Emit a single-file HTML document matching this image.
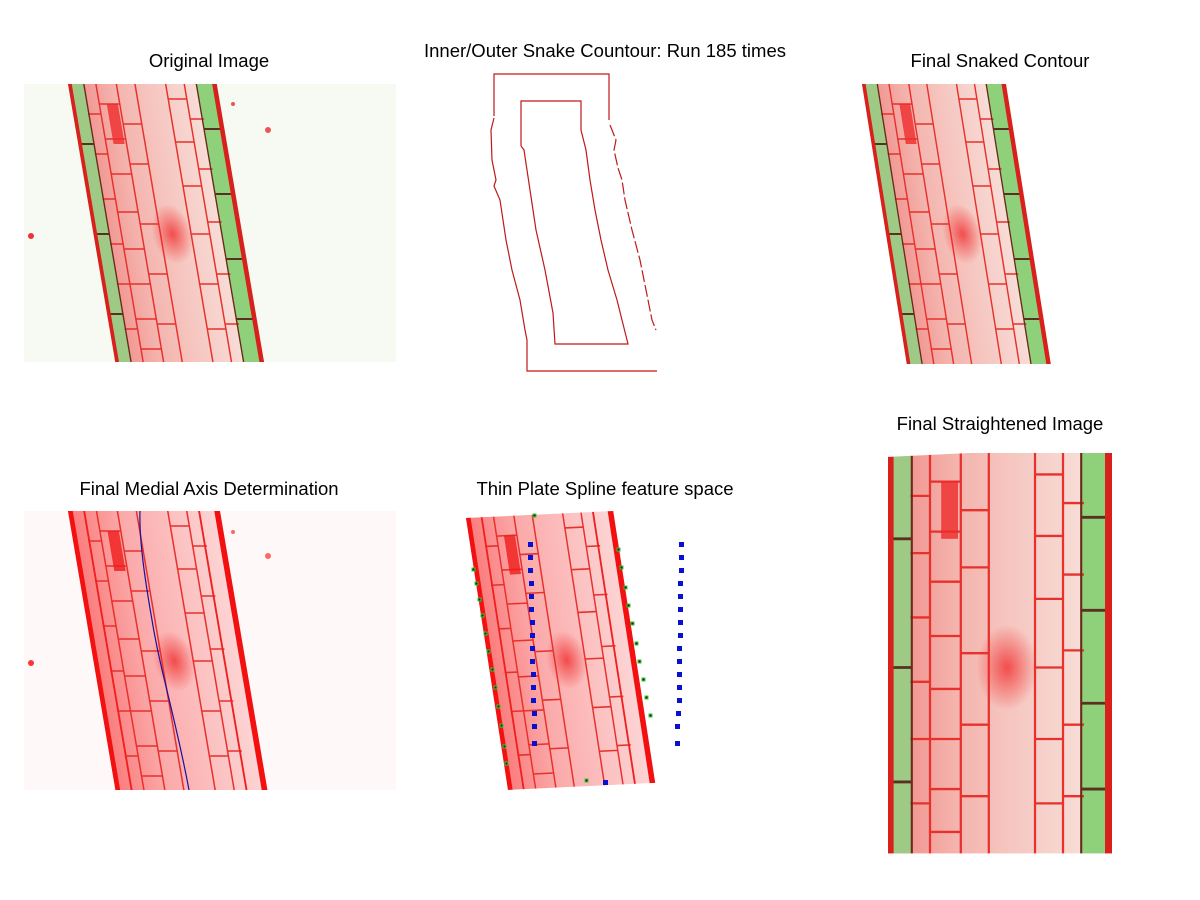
<!DOCTYPE html>
<html><head><meta charset="utf-8"><style>
html,body{margin:0;padding:0;background:#fff;}
svg{display:block;}
text{font-family:"Liberation Sans",sans-serif;font-size:18.5px;fill:#000;}
</style></head><body>
<svg width="1200" height="900" viewBox="0 0 1200 900" xmlns="http://www.w3.org/2000/svg">
<defs>
<linearGradient id="gc" x1="0" x2="1" y1="0" y2="0">
<stop offset="0" stop-color="#f08a86"/><stop offset="0.3" stop-color="#f4b3ad"/><stop offset="0.55" stop-color="#f6c6c0"/><stop offset="1" stop-color="#f8e6e0"/>
</linearGradient>
<linearGradient id="gr" x1="0" x2="1" y1="0" y2="0">
<stop offset="0" stop-color="#fb7a7a"/><stop offset="0.35" stop-color="#fbaaaa"/><stop offset="1" stop-color="#fdd6d6"/>
</linearGradient>
<radialGradient id="blob"><stop offset="0" stop-color="#f03030" stop-opacity="0.8"/><stop offset="1" stop-color="#f03030" stop-opacity="0"/></radialGradient>
<g id="cells" fill="none" stroke="#e8302c" stroke-width="1.6">
<path d="M30 0V280M52 0V280M72 0V280M105 0V280M125 0V280"/>
<path d="M16 30H30M16 70H30M16 115H30M16 160H30M16 200H30M16 245H30"/>
<path d="M30 20H52M30 55H52M30 90H52M30 128H52M30 165H52M30 200H52M30 235H52M30 265H52"/>
<path d="M52 40H72M52 80H72M52 140H72M52 190H72M52 240H72"/>
<path d="M105 15H125M105 58H125M105 102H125M105 150H125M105 200H125M105 245H125"/>
<path d="M125 35H140M125 85H140M125 138H140M125 190H140M125 240H140"/>
</g>
<g id="tc">
<rect x="0" y="0" width="160" height="280" fill="url(#gc)"/>
<rect x="3" y="0" width="14" height="280" fill="#9fca86"/>
<rect x="138" y="0" width="18" height="280" fill="#8fd07a"/>
<path d="M3 60H17M3 150H17M3 230H17M138 45H156M138 110H156M138 175H156M138 235H156" stroke="#5a3020" stroke-width="2"/>
<use href="#cells"/>
<rect x="0" y="0" width="4" height="280" fill="#d8201c"/>
<rect x="155" y="0" width="5" height="280" fill="#d8201c"/>
<line x1="17" y1="0" x2="17" y2="280" stroke="#6a2a18" stroke-width="1.5"/>
<line x1="138" y1="0" x2="138" y2="280" stroke="#6a2a18" stroke-width="1.5"/>
<ellipse cx="85" cy="150" rx="22" ry="30" fill="url(#blob)"/>
<rect x="38" y="20" width="12" height="40" fill="#ee2a2a" opacity="0.8"/>
</g>
<g id="tr">
<rect x="0" y="0" width="160" height="280" fill="url(#gr)"/>
<use href="#cells"/>
<rect x="0" y="0" width="5" height="280" fill="#f21010"/>
<rect x="154" y="0" width="6" height="280" fill="#f21010"/>
<line x1="17" y1="0" x2="17" y2="280" stroke="#f02020" stroke-width="2"/>
<line x1="138" y1="0" x2="138" y2="280" stroke="#f02020" stroke-width="2"/>
<ellipse cx="85" cy="150" rx="22" ry="30" fill="url(#blob)"/>
<rect x="38" y="20" width="12" height="40" fill="#f01a1a" opacity="0.8"/>
</g>
<clipPath id="c1"><rect x="24" y="84" width="372" height="278"/></clipPath>
<clipPath id="c4"><rect x="24" y="511" width="372" height="279"/></clipPath>
</defs>

<!-- Panel 1 -->
<text x="209" y="67" text-anchor="middle">Original Image</text>
<rect x="24" y="84" width="372" height="278" fill="#f6faf2"/>
<g clip-path="url(#c1)"><use href="#tc" transform="matrix(0.93,0,0.17,1,68,84)"/></g>
<circle cx="31" cy="236" r="3" fill="#e33"/>
<circle cx="268" cy="130" r="3" fill="#e55"/>
<circle cx="233" cy="104" r="2" fill="#e55"/>

<!-- Panel 2 -->
<text x="605" y="57" text-anchor="middle">Inner/Outer Snake Countour: Run 185 times</text>
<g fill="none" stroke="#c01818" stroke-width="1.2">
<polyline points="494,116 494,74 609,74 609,120"/>
<polyline points="494,118 491,130 492,160 496,180 494,186 500,200 506,240 512,270 520,300 525,330 527,340 527,371 657,371"/>
<polyline points="610,125 616,140 614,150 618,168 622,180 625,200 632,230 640,260 646,290 652,320 656,330" stroke-dasharray="12,3"/>
<polyline points="521,146 521,101 581,101 581,130 586,150 590,180 595,210 601,240 608,270 617,300 622,320 628,344 555,344 553,313 545,270 536,230 530,190 524,150 521,146"/>
</g>

<!-- Panel 3 -->
<text x="1000" y="67" text-anchor="middle">Final Snaked Contour</text>
<use href="#tc" transform="matrix(0.9,0,0.16,1,862,84)"/>

<!-- Panel 4 -->
<text x="209" y="495" text-anchor="middle">Final Medial Axis Determination</text>
<rect x="24" y="511" width="372" height="279" fill="#fff8f8"/>
<g clip-path="url(#c4)"><use href="#tr" transform="matrix(0.95,0,0.17,1,68,511)"/></g>
<circle cx="31" cy="663" r="3" fill="#f33"/>
<circle cx="268" cy="556" r="3" fill="#f66"/>
<circle cx="233" cy="532" r="2" fill="#f66"/>
<path d="M140 511 C139 540 145 580 152 620 C160 670 176 720 189 790" fill="none" stroke="#1a10a0" stroke-width="1.2"/>

<!-- Panel 5 -->
<text x="605" y="495" text-anchor="middle">Thin Plate Spline feature space</text>
<use href="#tr" transform="matrix(0.92,-0.044,0.15,0.971,466,518)"/>
<g fill="#0a10d0">
<rect x="528" y="542" width="5" height="5"/><rect x="528" y="555" width="5" height="5"/><rect x="528" y="568" width="5" height="5"/><rect x="529" y="581" width="5" height="5"/><rect x="529" y="594" width="5" height="5"/><rect x="529" y="607" width="5" height="5"/><rect x="530" y="620" width="5" height="5"/><rect x="530" y="633" width="5" height="5"/><rect x="530" y="646" width="5" height="5"/><rect x="530" y="659" width="5" height="5"/><rect x="531" y="672" width="5" height="5"/><rect x="531" y="685" width="5" height="5"/><rect x="531" y="698" width="5" height="5"/><rect x="532" y="711" width="5" height="5"/><rect x="532" y="724" width="5" height="5"/><rect x="532" y="741" width="5" height="5"/>
<rect x="679" y="542" width="5" height="5"/><rect x="679" y="555" width="5" height="5"/><rect x="679" y="568" width="5" height="5"/><rect x="678" y="581" width="5" height="5"/><rect x="678" y="594" width="5" height="5"/><rect x="678" y="607" width="5" height="5"/><rect x="678" y="620" width="5" height="5"/><rect x="678" y="633" width="5" height="5"/><rect x="677" y="646" width="5" height="5"/><rect x="677" y="659" width="5" height="5"/><rect x="677" y="672" width="5" height="5"/><rect x="677" y="685" width="5" height="5"/><rect x="677" y="698" width="5" height="5"/><rect x="676" y="711" width="5" height="5"/><rect x="675" y="724" width="5" height="5"/><rect x="675" y="741" width="5" height="5"/>
<rect x="603" y="780" width="5" height="5"/>
</g>
<g fill="#222" stroke="#3c3" stroke-width="1">
<rect x="472" y="568" width="3" height="3"/><rect x="475" y="582" width="3" height="3"/><rect x="478" y="598" width="3" height="3"/><rect x="481" y="614" width="3" height="3"/><rect x="484" y="632" width="3" height="3"/><rect x="487" y="650" width="3" height="3"/><rect x="491" y="668" width="3" height="3"/><rect x="494" y="686" width="3" height="3"/><rect x="497" y="705" width="3" height="3"/><rect x="500" y="724" width="3" height="3"/><rect x="503" y="745" width="3" height="3"/><rect x="505" y="762" width="3" height="3"/>
<rect x="617" y="548" width="3" height="3"/><rect x="620" y="566" width="3" height="3"/><rect x="624" y="586" width="3" height="3"/><rect x="627" y="604" width="3" height="3"/><rect x="631" y="622" width="3" height="3"/><rect x="635" y="642" width="3" height="3"/><rect x="638" y="660" width="3" height="3"/><rect x="642" y="678" width="3" height="3"/><rect x="645" y="696" width="3" height="3"/><rect x="649" y="714" width="3" height="3"/>
<rect x="533" y="514" width="3" height="3"/><rect x="585" y="779" width="3" height="3"/>
</g>

<!-- Panel 6 -->
<text x="1000" y="430" text-anchor="middle">Final Straightened Image</text>
<use href="#tc" transform="matrix(1.4,0,0,1.43,888,453)"/>
<polygon points="886,440 1115,440 1115,446 886,457" fill="#fff"/>
</svg>
</body></html>
